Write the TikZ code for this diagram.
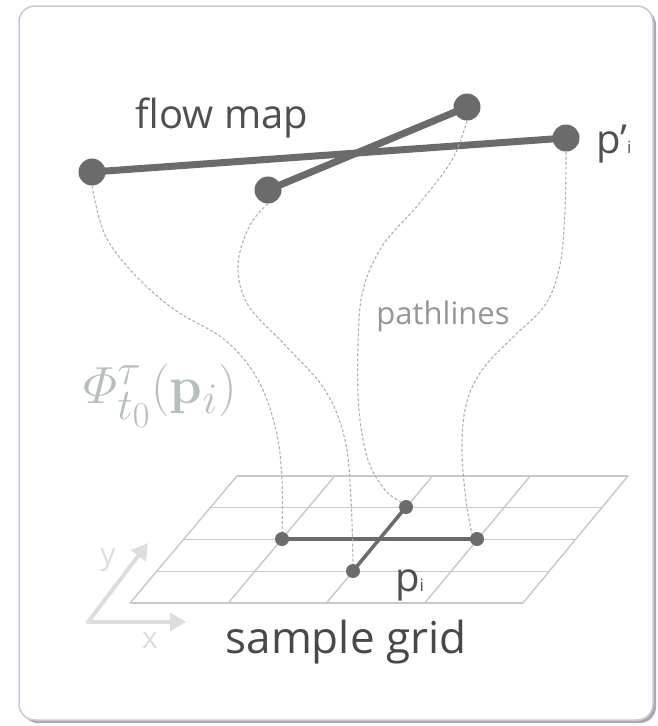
\documentclass[tikz,border=0pt]{standalone}
\usepackage{amsmath}
\usepackage[no-math]{fontspec}
\setmainfont{Open Sans}
\usetikzlibrary{arrows.meta}
\definecolor{dotc}{HTML}{6B6B6B}
\definecolor{gridc}{HTML}{C8C8C8}
\definecolor{pathc}{HTML}{B0B0B0}
\definecolor{framec}{HTML}{C6C9D8}
\definecolor{shadowc}{HTML}{A9ABB4}
\definecolor{txtc}{HTML}{505050}
\definecolor{phic}{HTML}{B6BFBF}
\definecolor{axisc}{HTML}{DDDDDD}
\begin{document}
\begin{tikzpicture}[x=1pt,y=-1pt,
  bigdot/.style={circle,fill=dotc,minimum size=27pt,inner sep=0pt},
  smalldot/.style={circle,fill=dotc,minimum size=14pt,inner sep=0pt},
  flowline/.style={draw=dotc,line width=7pt},
  gridline/.style={draw=gridc,line width=1.4pt},
  seg/.style={draw=dotc,line width=3.5pt},
  pl/.style={draw=pathc,line width=1.1pt,dash pattern=on 3pt off 2pt},
  axis/.style={draw=axisc,line width=4pt,-{Triangle[length=16pt,width=18pt]}},
  lbl/.style={inner sep=0pt,anchor=base}
]
\useasboundingbox (0,0) rectangle (658,726);
% frame
\fill[shadowc,rounded corners=16pt] (22,9) rectangle (656,723);
\draw[framec,fill=white,line width=1.5pt,rounded corners=16pt] (19,6) rectangle (653,720);

% grid
\foreach \k in {0,...,4} {
  \pgfmathsetmacro{\yy}{476+31.75*\k}
  \pgfmathsetmacro{\xl}{237-26.75*\k}
  \pgfmathsetmacro{\xr}{628-26.25*\k}
  \draw[gridline] (\xl,\yy) -- (\xr,\yy);
}
\foreach \j in {0,...,4} {
  \pgfmathsetmacro{\xb}{130+98.25*\j}
  \pgfmathsetmacro{\xt}{237+97.75*\j}
  \draw[gridline] (\xb,603) -- (\xt,476);
}

% axes
\coordinate (o) at (88,622);
\coordinate (xe) at (186,622);
\coordinate (ye) at (148,543);
\draw[axis,line cap=round] (o) -- (xe);
\draw[axis,line cap=round] (o) -- (ye);
\node[text=axisc,font=\fontsize{30}{30}\selectfont] (ylab) at (108,560) {y};
\node[text=axisc,font=\fontsize{30}{30}\selectfont] (xlab) at (150,640) {x};

% top flow map
\node[bigdot] (a) at (92,172) {};
\node[bigdot] (b) at (268,190) {};
\node[bigdot] (c) at (467,107) {};
\node[bigdot] (d) at (566,138) {};
\draw[flowline] (a.center) -- (d.center);
\draw[flowline] (b.center) -- (c.center);

% grid points
\node[smalldot] (ga) at (282,539) {};
\node[smalldot] (gb) at (353,571) {};
\node[smalldot] (gc) at (406,507) {};
\node[smalldot] (gd) at (477,539) {};
\draw[seg] (ga.center) -- (gd.center);
\draw[seg] (gb.center) -- (gc.center);

% pathlines
\draw[pl] plot[smooth,tension=0.6] coordinates {(a.south) (105,235) (135,275) (175,310) (225,340) (258,380) (276,430) (282,480) (ga.north)};
\draw[pl] plot[smooth,tension=0.6] coordinates {(b.south) (250,225) (238,265) (248,305) (285,345) (325,390) (345,440) (351,500) (gb.north)};
\draw[pl] plot[smooth,tension=0.6] coordinates {(c.south) (452,160) (418,205) (383,245) (363,290) (358,345) (359,410) (368,460) (385,490) (gc.north west)};
\draw[pl] plot[smooth,tension=0.6] coordinates {(d.south) (565,210) (560,265) (545,305) (512,338) (482,370) (466,405) (462,450) (466,500) (gd.north west)};

% texts
\node[lbl,text=txtc,font=\fontsize{40}{40}\selectfont] (fm) at (222,128) {flow map};
\node[lbl,text=txtc,font=\fontsize{40}{40}\selectfont,anchor=base west] (pp) at (596,153) {p’\fontsize{17}{17}\selectfont i};
\node[lbl,text=pathc!85!black,font=\fontsize{31}{31}\selectfont] (plt) at (443,324) {pathlines};
\node[lbl,text=txtc,font=\fontsize{40}{40}\selectfont,anchor=base west] (pi) at (395,591) {p\fontsize{17}{17}\selectfont i};
\node[lbl,text=txtc!90!black,font=\fontsize{44}{44}\selectfont] (sg) at (346,653) {sample grid};
\node[text=phic,font=\Huge,scale=2.1,inner sep=0pt] (phi) at (160,396) {$\varPhi^{\tau}_{t_0}(\mathbf{p}_i)$};
\end{tikzpicture}
\end{document}
